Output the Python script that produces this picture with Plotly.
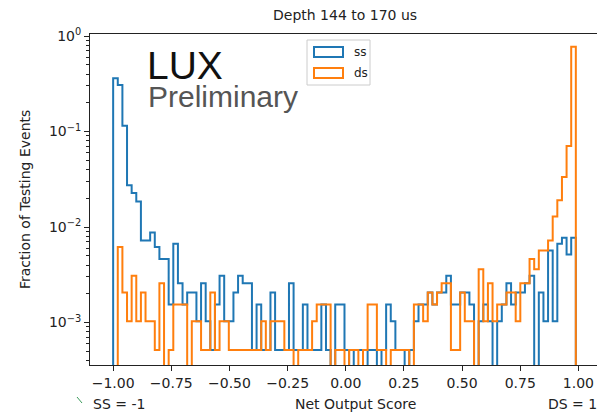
import numpy as np
import plotly.graph_objects as go

# ---------------- data ----------------
N_EVENTS = 1941  # events per testing sample (one event ~ 5.2e-4)

ss_counts = [700, 595, 223, 53, 44, 36, 14, 14, 17, 12,
             9, 9, 3, 13, 5, 3, 4, 4, 2, 5,
             2, 1, 3, 6, 2, 2, 4, 6, 5, 5,
             1, 3, 1, 1, 4, 1, 1, 1, 5, 1,
             1, 3, 1, 1, 1, 3, 1, 0, 3, 3,
             1, 0, 1, 1, 0, 1, 1, 0, 1, 3,
             2, 1, 1, 0, 1, 2, 3, 3, 4, 3,
             4, 4, 6, 3, 3, 4, 4, 3, 0, 2,
             3, 2, 0, 2, 3, 5, 3, 4, 4, 5,
             6, 0, 4, 2, 11, 2, 13, 15, 10, 15]

ds_counts = [0, 12, 4, 2, 6, 2, 4, 2, 2, 1,
             5, 0, 1, 3, 3, 3, 0, 2, 2, 1,
             1, 4, 1, 2, 2, 1, 1, 1, 1, 1,
             1, 1, 2, 1, 2, 2, 2, 1, 1, 0,
             1, 1, 1, 2, 3, 3, 3, 0, 1, 1,
             0, 1, 1, 0, 1, 3, 3, 1, 1, 0,
             1, 1, 1, 1, 0, 3, 3, 2, 4, 3,
             4, 5, 5, 1, 1, 4, 2, 2, 0, 7,
             2, 5, 2, 3, 3, 4, 4, 2, 5, 5,
             9, 7, 11, 11, 14, 25, 37, 65, 137, 1500]

series_names = ["ss", "ds"]
series_colors = ["#1f77b4", "#ff7f0e"]

x_tick_vals = [-1.0, -0.75, -0.5, -0.25, 0.0, 0.25, 0.5, 0.75, 1.0]
x_tick_text = ["\u22121.00", "\u22120.75", "\u22120.50", "\u22120.25", "0.00",
               "0.25", "0.50", "0.75", "1.00"]
y_tick_vals = [1e-3, 1e-2, 1e-1, 1e0]
y_tick_text = ["10<sup>\u22123</sup>", "10<sup>\u22122</sup>",
               "10<sup>\u22121</sup>", "10<sup>0</sup>"]

# ---------------- layout helpers ----------------
W, H = 597, 414
L, R, T, B = 90, 0, 34, 49
PW, PH = W - L - R, H - T - B


def px(x):
    return (x - L) / PW


def py(y):
    return (H - B - y) / PH


edges = np.linspace(-1.0, 0.989, 101)
FLOOR = 1e-7  # empty bins fall below the axis

fig = go.Figure()
for name, color, counts in zip(series_names, series_colors, [ss_counts, ds_counts]):
    frac = [c / N_EVENTS if c > 0 else FLOOR for c in counts]
    xs = [edges[0]] + list(edges[:-1]) + [edges[-1], edges[-1]]
    ys = [FLOOR] + frac + [frac[-1], FLOOR]
    fig.add_trace(go.Scatter(x=xs, y=ys, mode="lines", name=name,
                             line=dict(color=color, width=2, shape="hv"),
                             showlegend=False, hoverinfo="skip"))

fig.update_layout(
    width=W, height=H,
    margin=dict(l=L, r=R, t=T, b=B, pad=0),
    paper_bgcolor="white", plot_bgcolor="white",
    font=dict(family="DejaVu Sans", size=14, color="#222"),
    xaxis=dict(range=[-1.0995, 1.08], tickvals=x_tick_vals, ticktext=x_tick_text,
               ticks="outside", ticklen=5, tickcolor="#222", showgrid=False,
               zeroline=False, showline=True, linecolor="#222", linewidth=1,
               mirror=True, tickfont=dict(size=14)),
    yaxis=dict(type="log", range=[-3.445, 0.021], tickvals=y_tick_vals,
               ticktext=y_tick_text, ticks="outside", ticklen=5, tickcolor="#222",
               showgrid=False, zeroline=False, showline=True, linecolor="#222",
               linewidth=1, tickfont=dict(size=14),
               minor=dict(ticks="outside", ticklen=3, tickcolor="#222",
                          tickvals=[m * 10.0 ** e for e in range(-4, 0)
                                    for m in range(2, 10)
                                    if m * 10.0 ** e > 3.5e-4])),
)


def note(text, x, y, xanchor="center", size=14, **kw):
    return dict(text=text, x=px(x), y=py(y), xref="paper", yref="paper",
                xanchor=xanchor, yanchor="middle", showarrow=False,
                font=dict(size=size, **kw.pop("font", {})), **kw)


ann = [
    note("Depth 144 to 170 us", 345, 15),
    note("Fraction of Testing Events", 25, 200, textangle=-90),
    note("Net Output Score", 355, 404),
    note("SS = -1", 91, 404, xanchor="left"),
    note("DS = 1", 546, 404, xanchor="left"),
    note("LUX", 145, 65, xanchor="left", size=39,
         font=dict(family="Liberation Sans", color="#111")),
    note("Preliminary", 146, 96, xanchor="left", size=30,
         font=dict(family="Liberation Sans", color="#555")),
    note("ss", 352, 52, xanchor="left", size=12),
    note("ds", 352, 73, xanchor="left", size=12),
]

shapes = [
    dict(type="rect", xref="paper", yref="paper",
         x0=px(307), x1=px(370), y0=py(85), y1=py(40),
         line=dict(color="#cccccc", width=1), fillcolor="rgba(255,255,255,0.8)"),
    dict(type="rect", xref="paper", yref="paper",
         x0=px(314), x1=px(343), y0=py(57), y1=py(47),
         line=dict(color=series_colors[0], width=2)),
    dict(type="rect", xref="paper", yref="paper",
         x0=px(314), x1=px(343), y0=py(78), y1=py(68),
         line=dict(color=series_colors[1], width=2)),
    dict(type="line", xref="paper", yref="paper",
         x0=px(77), x1=px(82), y0=py(397), y1=py(403),
         line=dict(color="#3a9a5a", width=1)),
]

fig.update_layout(annotations=ann, shapes=shapes)
fig.write_html("out.html")
